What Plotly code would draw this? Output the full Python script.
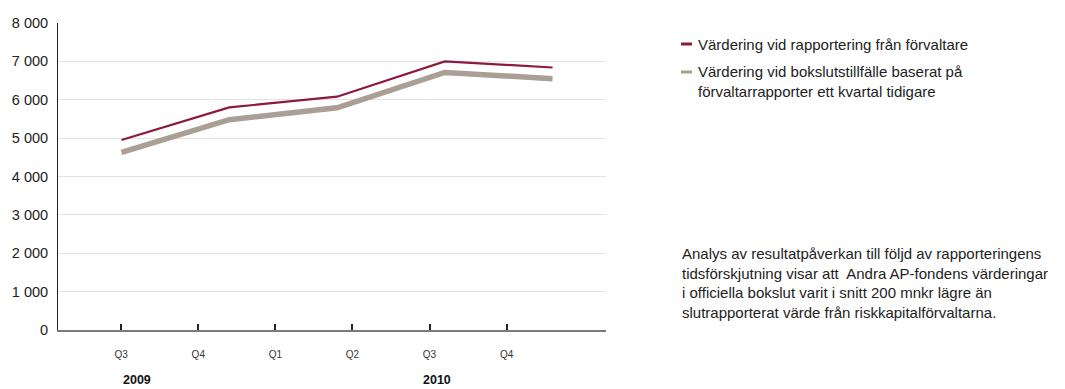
import plotly.graph_objects as go

# Quarter labels along the x axis
kvartal = ["Q3", "Q4", "Q1", "Q2", "Q3", "Q4"]
kvartal_pos = [0, 1, 2, 3, 4, 5]
ar_etiketter = ["2009", "2010"]

# Valuation series (mnkr), five observation points
punkt = [0, 1, 2, 3, 4]
forvaltare = [4950, 5800, 6080, 7000, 6840]
bokslut = [4630, 5480, 5790, 6710, 6550]

namn_forvaltare = "Värdering vid rapportering från förvaltare"
namn_bokslut = "Värdering vid bokslutstillfälle baserat på<br>förvaltarrapporter ett kvartal tidigare"

fakta = ("Analys av resultatpåverkan till följd av rapporteringens<br>"
         "tidsförskjutning visar att  Andra AP-fondens värderingar<br>"
         "i officiella bokslut varit i snitt 200 mnkr lägre än<br>"
         "slutrapporterat värde från riskkapitalförvaltarna.")

RED = "#8c1a3c"
GREY = "#aa9f94"
FONT = "Liberation Sans"

fig = go.Figure()
fig.add_trace(go.Scatter(x=punkt, y=bokslut, mode="lines", name=namn_bokslut,
                         line=dict(color=GREY, width=5.5), xaxis="x2",
                         showlegend=False))
fig.add_trace(go.Scatter(x=punkt, y=forvaltare, mode="lines", name=namn_forvaltare,
                         line=dict(color=RED, width=2.2), xaxis="x2",
                         showlegend=False))

fig.update_layout(
    width=1065, height=389,
    margin=dict(l=58, r=459, t=23, b=59),
    paper_bgcolor="white", plot_bgcolor="white",
    separators=", ",
    font=dict(family=FONT, color="#222"),
    xaxis=dict(
        range=[-0.82, 6.29], tickmode="array", tickvals=kvartal_pos,
        ticktext=kvartal, ticks="inside", ticklen=6, tickwidth=1.5,
        tickcolor="#222", showgrid=False, zeroline=False,
        showline=True, linecolor="#7a7a7a", linewidth=2,
        tickfont=dict(size=10, color="#333"), ticklabelstandoff=14,
    ),
    xaxis2=dict(range=[-0.589, 4.496], overlaying="x", visible=False),
    yaxis=dict(
        range=[0, 8000], tickvals=list(range(0, 8001, 1000)),
        tickformat=",d", showgrid=True, gridcolor="#e2e2e2", gridwidth=1,
        zeroline=False, showline=True, linecolor="#222", linewidth=1,
        ticks="", tickfont=dict(size=14.5, color="#222"), ticklabelstandoff=6,
    ),
)

# Year labels below the quarter ticks
for x, txt in zip([0.2, 4.1], ar_etiketter):
    fig.add_annotation(x=x, xref="x", y=-0.163, yref="paper", yanchor="middle",
                       text="<b>" + txt + "</b>", showarrow=False,
                       font=dict(size=12.5, color="#111", family=FONT))

# Legend: short line keys with series names
legend_rows = [(RED, namn_forvaltare, 44), (GREY, namn_bokslut, 72)]
for color, txt, ypx in legend_rows:
    yp = 1 - (ypx - 23) / 307
    fig.add_shape(type="line", xref="paper", yref="paper",
                  x0=(681 - 58) / 548, x1=(692 - 58) / 548, y0=yp, y1=yp,
                  line=dict(color=color, width=3))
    fig.add_annotation(x=(696 - 58) / 548, xref="paper", y=yp, yref="paper",
                       xanchor="left", yanchor="top" if "<br>" in txt else "middle",
                       yshift=11 if "<br>" in txt else 0,
                       text=txt, showarrow=False, align="left",
                       font=dict(size=15, color="#222", family=FONT))

# Explanatory note
fig.add_annotation(x=(680 - 58) / 548, xref="paper", y=1 - (243 - 23) / 307,
                   yref="paper", xanchor="left", yanchor="top", text=fakta,
                   showarrow=False, align="left",
                   font=dict(size=15, color="#222", family=FONT))

fig.write_html("out.html")
